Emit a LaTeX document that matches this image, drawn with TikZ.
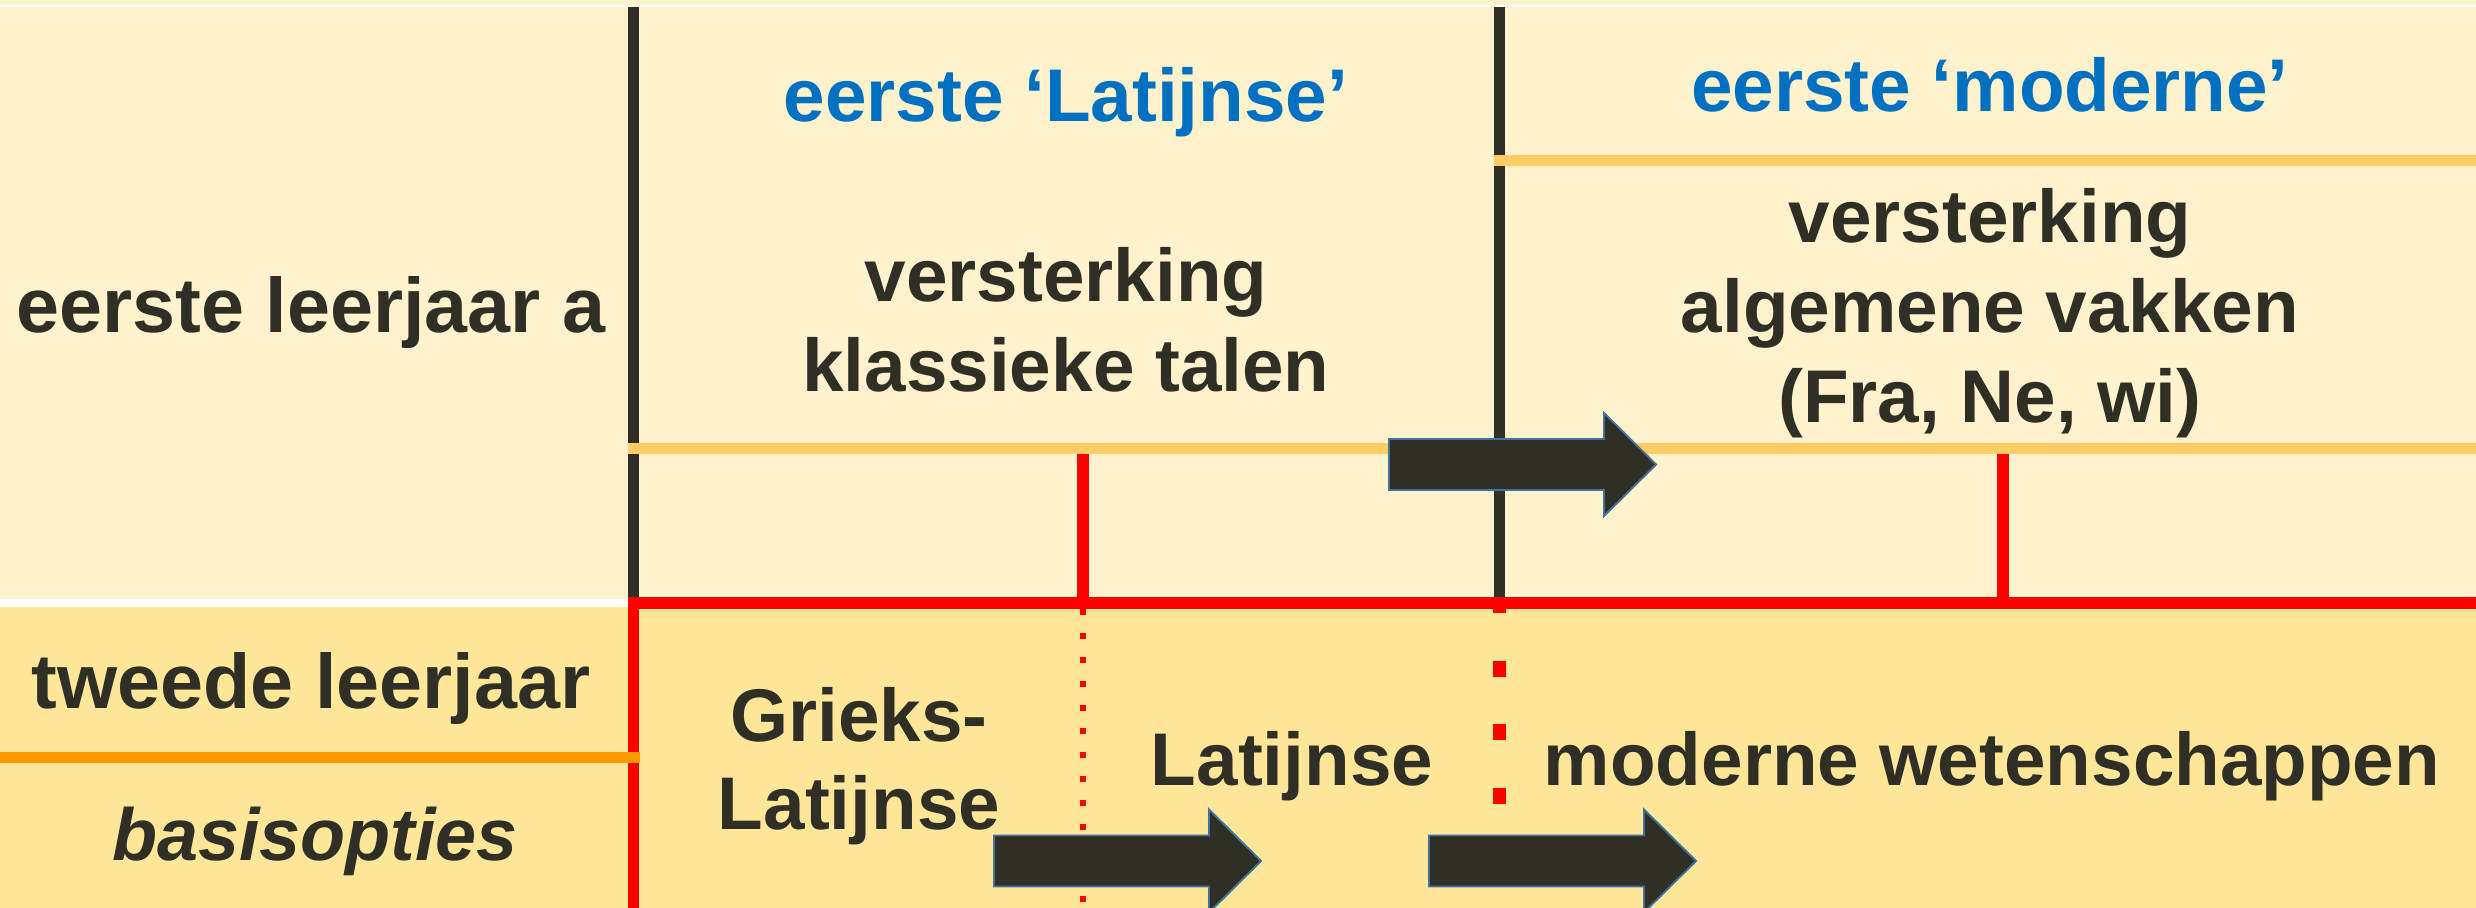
\documentclass[tikz,border=0pt]{standalone}
\usepackage{fontspec}
\setmainfont{Liberation Sans}
\usepackage{tikz}
\usetikzlibrary{calc}
\definecolor{roomlicht}{RGB}{255,242,204}
\definecolor{geellicht}{RGB}{255,230,153}
\definecolor{lichtoranje}{RGB}{255,204,102}
\definecolor{oranje}{RGB}{255,153,0}
\definecolor{donker}{RGB}{47,47,38}
\definecolor{blauw}{RGB}{0,112,192}
\definecolor{randblauw}{RGB}{65,113,156}

\begin{document}
\begin{tikzpicture}[x=0.02cm,y=-0.02cm,
  tekst/.style={inner sep=0pt,anchor=base,text=donker,font=\fontsize{42.5}{51}\selectfont\bfseries},
  kop/.style={tekst,text=blauw},
  rij/.style={tekst,font=\fontsize{44}{53}\selectfont\bfseries},
  pijl/.style={fill=donker,draw=randblauw,line width=1.1pt,line join=miter}]

  \clip (0,0) rectangle (2476,908);

  % achtergrond
  \fill[roomlicht] (0,0) rectangle (2476,603);
  \fill[geellicht] (0,603) rectangle (2476,908);
  \draw[white,line width=1.2pt] (0,6) -- (2476,6);

  % kolommen
  \draw[donker,line width=6.3pt] (633.5,7) -- (633.5,603);
  \draw[donker,line width=6.3pt] (1499.5,7) -- (1499.5,603);

  \draw[lichtoranje,line width=6.8pt] (628,448.5) -- (2476,448.5);
  \draw[lichtoranje,line width=6.8pt] (1494,160.5) -- (2476,160.5);

  \draw[red,line width=6.8pt] (1083,454.5) -- (1083,603);
  \draw[red,line width=6.8pt] (2003,454.5) -- (2003,603);

  \draw[red,line width=3.4pt,dash pattern=on 3.4pt off 10.2pt] (1083,609) -- (1083,908);
  \draw[red,line width=7.9pt,dash pattern=on 9.07pt off 27.2pt] (1499.5,597) -- (1499.5,805);

  \draw[red,line width=6.8pt,line join=miter] (633.5,908) -- (633.5,603) -- (2476,603);

  \draw[white,line width=4pt] (0,603) -- (627.5,603);
  \draw[oranje,line width=6.8pt] (0,757.5) -- (639.5,757.5);

  % eerste leerjaar
  \node[rij] (jaar1) at (311,333) {eerste leerjaar a};

  \node[kop] (kopLat) at (1066,122) {eerste ‘Latijnse’};
  \node[tekst] (klas1) at (1066,302) {versterking};
  \node[tekst] (klas2) at (1066,392) {klassieke talen};

  \node[kop] (kopMod) at (1990,112) {eerste ‘moderne’};
  \node[tekst] (alg1) at (1990,243) {versterking};
  \node[tekst] (alg2) at (1990,333) {algemene vakken};
  \node[tekst] (alg3) at (1990,423) {(Fra, Ne, wi)};

  % tweede leerjaar
  \node[rij] (jaar2) at (311,708) {tweede leerjaar};
  \node[tekst,font=\fontsize{42}{50}\selectfont\bfseries\itshape] (basis) at (315,860) {basisopties};

  \node[tekst] (grl1) at (859,742) {Grieks-};
  \node[tekst] (grl2) at (859,829) {Latijnse};
  \node[tekst] (lat) at (1292,786) {Latijnse};
  \node[tekst] (mw) at (1992,786) {moderne wetenschappen};

  % pijlen
  \foreach \bx/\by in {1389/464.5, 994/861, 1429/861}
    \draw[pijl] (\bx,\by-25.5) -- ++(215,0) -- ++(0,-26) -- ++(52,51.5)
      -- ++(-52,51.5) -- ++(0,-26) -- ++(-215,0) -- cycle;

\end{tikzpicture}
\end{document}
